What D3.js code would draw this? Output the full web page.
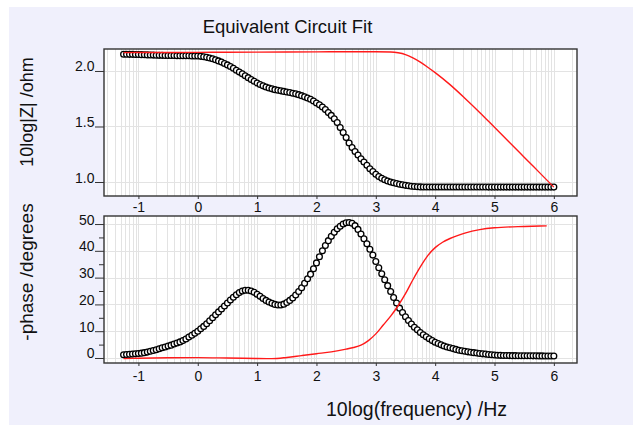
<!DOCTYPE html>
<html>
<head>
<meta charset="utf-8">
<script src="https://cdn.jsdelivr.net/npm/d3@7"></script>
<style>
  body { margin: 0; background: #fff; }
  text { font-family: "Liberation Sans", Arial, sans-serif; fill: #111; }
</style>
</head>
<body>
<div id="canvas"></div>
<script>
// measured points, x = log10(frequency / Hz)
const logFreq = [-1.25,-1.2,-1.15,-1.1,-1.05,-1,-0.95,-0.9,-0.85,-0.8,-0.75,-0.7,-0.65,-0.6,-0.55,-0.5,-0.45,-0.4,-0.35,-0.3,-0.25,-0.2,-0.15,-0.1,-0.05,
                 0,0.05,0.1,0.15,0.2,0.25,0.3,0.35,0.4,0.45,0.5,0.55,0.6,0.65,0.7,0.75,0.8,0.85,0.9,0.95,
                 1,1.05,1.1,1.15,1.2,1.25,1.3,1.35,1.4,1.45,1.5,1.55,1.6,1.65,1.7,1.75,1.8,1.85,1.9,1.95,
                 2,2.05,2.1,2.15,2.2,2.25,2.3,2.35,2.4,2.45,2.5,2.55,2.6,2.65,2.7,2.75,2.8,2.85,2.9,2.95,
                 3,3.05,3.1,3.15,3.2,3.25,3.3,3.35,3.4,3.45,3.5,3.55,3.6,3.65,3.7,3.75,3.8,3.85,3.9,3.95,
                 4,4.05,4.1,4.15,4.2,4.25,4.3,4.35,4.4,4.45,4.5,4.55,4.6,4.65,4.7,4.75,4.8,4.85,4.9,4.95,
                 5,5.05,5.1,5.15,5.2,5.25,5.3,5.35,5.4,5.45,5.5,5.55,5.6,5.65,5.7,5.75,5.8,5.85,5.9,5.95,
                 6]

const logZ = [2.151,2.151,2.150,2.150,2.149,2.148,2.147,2.146,2.145,2.144,2.143,2.142,2.141,2.141,2.140,2.140,2.139,2.139,2.138,2.138,2.138,2.137,2.137,2.136,2.136,
              2.135,2.132,2.128,2.123,2.117,2.110,2.101,2.091,2.080,2.068,2.055,2.040,2.025,2.007,1.990,1.974,1.957,1.940,1.923,1.907,
              1.892,1.878,1.866,1.856,1.847,1.839,1.832,1.826,1.821,1.816,1.811,1.806,1.800,1.794,1.787,1.778,1.767,1.757,1.745,1.730,
              1.712,1.695,1.675,1.652,1.625,1.600,1.570,1.535,1.490,1.445,1.400,1.352,1.310,1.275,1.243,1.210,1.180,1.150,1.120,1.095,
              1.070,1.050,1.034,1.020,1.009,1.000,0.993,0.986,0.980,0.975,0.970,0.966,0.962,0.959,0.957,0.956,0.955,0.955,0.955,0.955,
              0.955,0.955,0.955,0.955,0.955,0.955,0.955,0.955,0.955,0.955,0.955,0.955,0.955,0.955,0.955,0.955,0.955,0.955,0.954,0.954,
              0.954,0.954,0.954,0.954,0.954,0.954,0.954,0.954,0.954,0.954,0.954,0.954,0.954,0.954,0.954,0.954,0.954,0.954,0.954,0.954,
              0.954]

const phase = [1.2,1.3,1.35,1.45,1.55,1.65,1.8,2.0,2.2,2.5,2.8,3.1,3.45,3.8,4.1,4.5,4.8,5.2,5.6,6.0,6.5,7.1,7.8,8.5,9.2,
               10.0,10.9,11.8,12.8,13.9,15.0,16.1,17.2,18.3,19.4,20.5,21.6,22.7,23.6,24.4,25.0,25.3,25.3,25.0,24.5,
               23.8,23.0,22.2,21.5,20.9,20.4,20.0,19.8,19.8,20.1,20.7,21.5,22.4,23.5,24.8,26.2,27.9,29.6,31.3,33.3,
               35.5,37.8,40.0,42.0,43.8,45.4,46.9,48.2,49.2,50.0,50.5,50.6,50.3,49.4,48.0,46.3,44.5,42.6,40.6,38.4,
               36.0,33.7,31.4,29.2,27.0,24.8,22.6,20.5,18.6,17.0,15.4,14.0,12.7,11.5,10.5,9.5,8.7,7.9,7.2,6.5,
               5.9,5.4,4.9,4.5,4.1,3.8,3.5,3.2,2.9,2.7,2.5,2.3,2.15,2.0,1.85,1.7,1.55,1.45,1.3,1.2,
               1.1,1.0,0.98,0.95,0.93,0.9,0.88,0.87,0.85,0.84,0.83,0.82,0.81,0.8,0.79,0.78,0.78,0.77,0.77,0.76,
               0.76]

// fitted model curves
const fitZFreq = [-1.25,-1,-0.5,0,0.5,1,1.5,2,2.5,3,3.25,3.375,3.5,3.625,3.75,3.875,4,4.25,4.5,4.75,5,5.25,5.5,5.75,6]
const fitZ = [2.165,2.166,2.167,2.168,2.169,2.170,2.171,2.172,2.173,2.173,2.171,2.164,2.148,2.118,2.080,2.034,1.985,1.877,1.755,1.627,1.493,1.359,1.224,1.089,0.954]

const fitPFreq = [-1.25,-1,-0.5,0,0.5,1,1.25,1.5,1.75,2,2.25,2.5,2.625,2.75,2.875,3,3.125,3.25,3.375,3.5,3.625,3.75,3.875,4,4.125,4.25,4.375,4.5,4.75,5,5.5,5.88]
const fitPhase = [-0.25,-0.1,0.1,0.15,0.0,-0.2,-0.25,0.2,0.9,1.6,2.3,3.3,3.9,4.8,6.5,9.0,12.3,15.6,19.5,24.0,29.2,34.0,38.2,41.2,43.2,44.6,45.7,46.6,47.9,48.6,49.1,49.3]

const xTicks = [-1, 0, 1, 2, 3, 4, 5, 6]
const zTicks = [1.0, 1.5, 2.0]
const pTicks = [0, 10, 20, 30, 40, 50]
const pMinor = [5, 15, 25, 35, 45]

const left = 104, right = 577

let svg = d3.select("#canvas").append("svg")
    .attr("width", 633)
    .attr("height", 425)

svg.append("rect")
    .attr("x", 9).attr("y", 7)
    .attr("width", 624).attr("height", 418)
    .attr("fill", "#f0f0fc")

const x = d3.scaleLinear().domain([-1.58, 6.39]).range([left, right])
const yZ = d3.scaleLinear().domain([0.874, 2.198]).range([196, 49])
const yP = d3.scaleLinear().domain([-1.87, 53.0]).range([363, 216])

// log-decade grid positions
let gridX = []
for (let d = -2; d <= 6; d++) {
  for (let m = 1; m <= 9; m++) {
    let v = d + Math.log10(m)
    if (v > -1.58 && v < 6.39) gridX.push(v)
  }
}

function panel(y, top, bottom, ticks, minor, fmt, labelDy, vals, fx, fy) {
  let g = svg.append("g")

  g.append("rect")
      .attr("x", left).attr("y", top)
      .attr("width", right - left).attr("height", bottom - top)
      .attr("fill", "white")

  g.selectAll("vgrid")
      .data(gridX)
      .enter().append("line")
      .attr("x1", d => Math.round(x(d)) + 0.5).attr("x2", d => Math.round(x(d)) + 0.5)
      .attr("y1", top).attr("y2", bottom)
      .attr("stroke", "#e3e3e3")

  g.selectAll("hgrid")
      .data(ticks)
      .enter().append("line")
      .attr("x1", left).attr("x2", right)
      .attr("y1", d => Math.round(y(d)) + 0.5).attr("y2", d => Math.round(y(d)) + 0.5)
      .attr("stroke", "#e3e3e3")

  // y axis, labels sit on top of the tick line
  let ya = g.append("g")
      .attr("transform", `translate(${left},0)`)
      .call(d3.axisLeft(y).tickValues(ticks).tickSize(9).tickFormat(fmt))
  ya.select(".domain").remove()
  ya.attr("font-size", 14).attr("font-family", "Liberation Sans, Arial, sans-serif")
  ya.selectAll("line").attr("stroke", "#333")
  ya.selectAll("text").attr("x", -9.5).attr("dy", "0").attr("fill", "#111")

  if (minor.length) {
    let ym = g.append("g")
        .attr("transform", `translate(${left},0)`)
        .call(d3.axisLeft(y).tickValues(minor).tickSize(5).tickFormat(""))
    ym.select(".domain").remove()
    ym.selectAll("line").attr("stroke", "#333")
  }

  let xa = g.append("g")
      .attr("transform", `translate(0,${bottom})`)
      .call(d3.axisBottom(x).tickValues(xTicks).tickSize(3).tickFormat(d => String(d)))
  xa.select(".domain").remove()
  xa.attr("font-size", 14).attr("font-family", "Liberation Sans, Arial, sans-serif")
  xa.selectAll("line").attr("stroke", "#333")
  xa.selectAll("text").attr("y", labelDy).attr("dy", "0").attr("fill", "#111")

  // frame
  g.append("rect")
      .attr("x", left).attr("y", top)
      .attr("width", right - left).attr("height", bottom - top)
      .attr("fill", "none")
      .attr("stroke", "#333")
      .attr("stroke-width", 1.4)

  // measured data as open circles
  g.selectAll("pts")
      .data(vals)
      .enter().append("circle")
      .attr("cx", (d, i) => x(logFreq[i]))
      .attr("cy", d => y(d))
      .attr("r", 2.9)
      .attr("fill", "white")
      .attr("stroke", "#000")
      .attr("stroke-width", 1.3)

  // fit
  let line = d3.line()
      .x((d, i) => x(fx[i]))
      .y(d => y(d))
      .curve(d3.curveMonotoneX)
  g.append("path")
      .attr("d", line(fy))
      .attr("fill", "none")
      .attr("stroke", "#ff1a1a")
      .attr("stroke-width", 1.4)
}

panel(yZ, 49, 196, zTicks, [], d3.format(".1f"), 16, logZ, fitZFreq, fitZ)
panel(yP, 216, 363, pTicks, pMinor, d => String(d), 17.5, phase, fitPFreq, fitPhase)

svg.append("text")
    .text("Equivalent Circuit Fit")
    .attr("x", 287.5).attr("y", 33)
    .attr("text-anchor", "middle")
    .attr("font-size", 18.5)

svg.append("text")
    .text("10log|Z| /ohm")
    .attr("transform", "translate(33,112) rotate(-90)")
    .attr("text-anchor", "middle")
    .attr("font-size", 18)

svg.append("text")
    .text("-phase /degrees")
    .attr("transform", "translate(33,272) rotate(-90)")
    .attr("text-anchor", "middle")
    .attr("font-size", 19)

svg.append("text")
    .text("10log(frequency) /Hz")
    .attr("x", 416.5).attr("y", 416)
    .attr("text-anchor", "middle")
    .attr("font-size", 19.5)
</script>
</body>
</html>
